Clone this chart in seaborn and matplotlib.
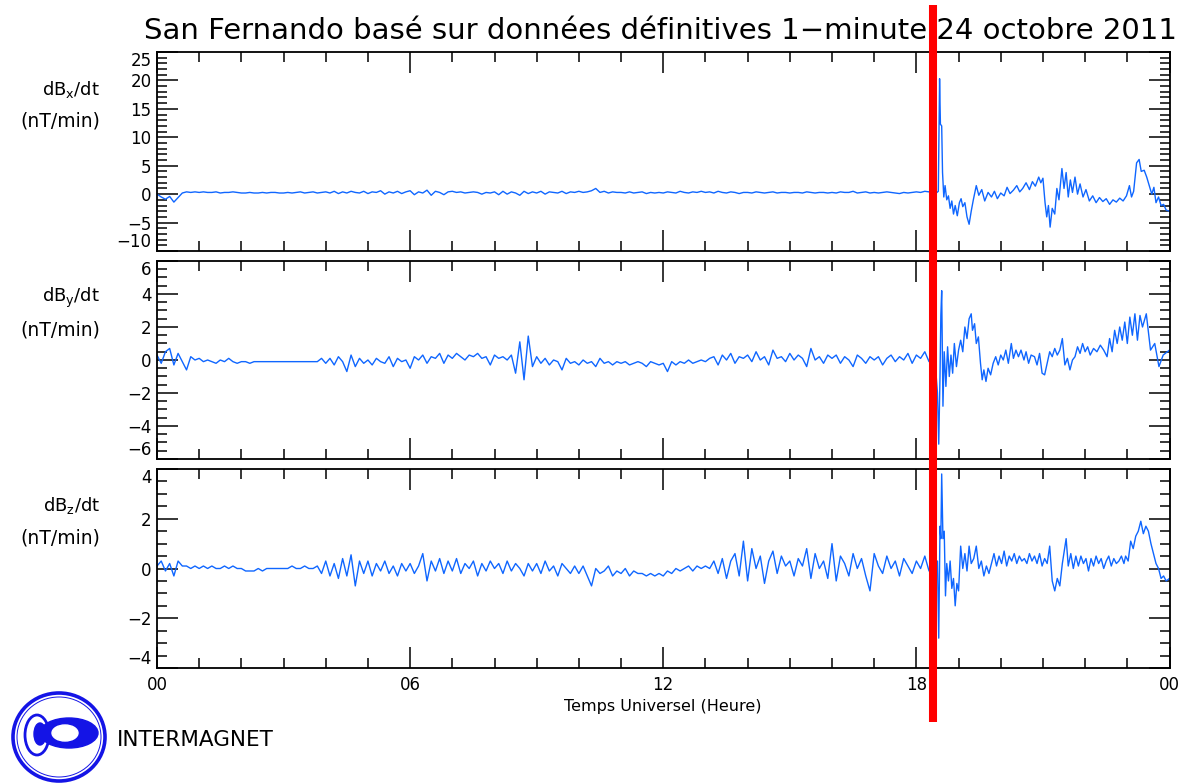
import numpy as np
import pandas as pd
import seaborn as sns
import matplotlib
matplotlib.use("Agg")
import matplotlib.pyplot as plt
from matplotlib.ticker import MultipleLocator, FixedLocator
from matplotlib.transforms import blended_transform_factory
from matplotlib.lines import Line2D
from matplotlib.patches import Ellipse

# ---------------- data ----------------
title = "San Fernando basé sur données définitives 1\u2212minute 24 octobre 2011"
xlabel = "Temps Universel (Heure)"
hour_ticks = [0, 6, 12, 18, 24]
hour_labels = ["00", "06", "12", "18", "00"]
event_hour = 18.39  # red marker

# quiet part: 0.0 h .. 18.3 h, every 0.1 h
quiet_hours = np.round(np.arange(184) * 0.1, 1)

dbx_quiet = [
    0.0, -0.5, -0.9, -0.4, -1.4, -0.6, 0.2, 0.4, 0.3, 0.4,
    0.3, 0.4, 0.3, 0.3, 0.4, 0.2, 0.3, 0.3, 0.4, 0.3,
    0.2, 0.2, 0.3, 0.2, 0.2, 0.3, 0.2, 0.3, 0.3, 0.2,
    0.2, 0.3, 0.2, 0.3, 0.4, 0.2, 0.3, 0.4, 0.2, 0.3,
    0.4, 0.2, 0.5, 0.1, 0.4, 0.2, 0.5, 0.3, 0.2, 0.5,
    0.1, 0.4, 0.3, 0.6, 0.0, 0.4, 0.2, 0.5, 0.1, 0.4,
    0.6, -0.1, 0.4, 0.2, 0.7, -0.2, 0.5, 0.3, -0.1, 0.4,
    0.5, 0.3, 0.4, 0.2, 0.3, 0.4, 0.3, 0.0, 0.3, 0.2,
    0.4, -0.1, 0.5, 0.0, 0.4, 0.2, -0.2, 0.5, 0.1, 0.4,
    0.2, 0.5, 0.0, 0.4, 0.3, 0.2, 0.5, 0.1, 0.4, 0.3,
    0.5, 0.3, 0.4, 0.6, 1.0, 0.3, 0.5, 0.2, 0.4, 0.3,
    0.3, 0.2, 0.4, 0.2, 0.3, 0.4, 0.1, 0.3, 0.2, 0.3,
    0.2, 0.4, 0.3, 0.2, 0.5, 0.3, 0.2, 0.4, 0.3, 0.5,
    0.3, 0.4, 0.2, 0.5, 0.3, 0.2, 0.4, 0.3, 0.1, 0.3,
    0.3, 0.2, 0.4, 0.3, 0.2, 0.3, 0.4, 0.2, 0.3, 0.3,
    0.2, 0.3, 0.3, 0.2, 0.4, 0.3, 0.2, 0.3, 0.3, 0.2,
    0.3, 0.2, 0.4, 0.3, 0.3, 0.5, 0.2, 0.3, 0.4, 0.2,
    0.3, 0.2, 0.3, 0.4, 0.3, 0.2, 0.1, 0.3, 0.2, 0.3,
    0.4, 0.3, 0.5, 0.4,
]
dby_quiet = [
    0.3, -0.2, 0.5, 0.7, -0.3, 0.4, -0.1, -0.6, 0.2, 0.0,
    0.1, -0.1, 0.0, -0.1, -0.2, 0.0, -0.1, 0.1, -0.1, -0.2,
    -0.1, -0.1, -0.2, -0.1, -0.1, -0.1, -0.1, -0.1, -0.1, -0.1,
    -0.1, -0.1, -0.1, -0.1, -0.1, -0.1, -0.1, -0.1, -0.1, 0.1,
    -0.2, 0.1, -0.3, 0.2, -0.1, -0.7, 0.3, -0.4, 0.1, -0.2,
    0.0, -0.3, 0.1, -0.1, -0.2, 0.2, -0.4, 0.1, -0.1, 0.0,
    -0.5, 0.2, 0.0, 0.3, -0.2, 0.2, 0.1, 0.4, -0.2, 0.3,
    0.1, 0.4, 0.2, 0.0, 0.3, 0.2, 0.4, 0.1, 0.2, -0.3,
    0.3, 0.1, 0.2, 0.0, 0.3, -0.8, 1.1, -1.2, 1.45, -0.4,
    0.2, -0.2, 0.1, -0.3, 0.0, -0.1, -0.6, 0.1, -0.2, -0.1,
    -0.3, 0.0, -0.2, -0.1, -0.4, 0.1, -0.2, -0.1, -0.3, -0.1,
    -0.2, -0.1, -0.3, -0.2, -0.1, -0.2, -0.4, -0.1, -0.2, -0.3,
    -0.2, -0.7, -0.1, -0.3, -0.1, -0.2, 0.0, -0.2, -0.1, 0.0,
    -0.1, 0.1, 0.2, -0.3, 0.3, 0.0, 0.4, -0.2, 0.2, 0.1,
    0.3, -0.1, 0.5, 0.0, 0.2, -0.3, 0.6, 0.1, 0.2, -0.1,
    0.4, 0.0, 0.3, 0.1, -0.4, 0.7, 0.0, 0.2, -0.2, 0.3,
    0.1, 0.3, -0.2, 0.2, 0.0, -0.4, 0.3, 0.1, -0.2, 0.2,
    0.0, 0.2, -0.3, 0.1, 0.3, -0.1, 0.2, 0.0, 0.4, -0.2,
    0.3, 0.1, 0.5, -0.1,
]
dbz_quiet = [
    0.1, 0.3, -0.1, 0.2, -0.3, 0.3, 0.1, 0.1, 0.0, 0.1,
    0.0, 0.1, 0.0, 0.1, 0.0, 0.0, 0.1, 0.0, 0.1, 0.0,
    0.0, -0.1, -0.1, -0.1, 0.0, -0.1, 0.0, 0.0, 0.0, 0.0,
    0.0, 0.0, 0.1, 0.0, 0.0, 0.1, 0.0, 0.0, 0.1, -0.2,
    0.3, -0.3, 0.2, -0.4, 0.4, -0.3, 0.55, -0.7, 0.3, -0.2,
    0.3, -0.3, 0.2, -0.1, 0.3, -0.2, 0.1, -0.3, 0.2, -0.1,
    0.2, -0.2, 0.1, 0.6, -0.5, 0.3, -0.1, 0.4, -0.2, 0.3,
    -0.1, 0.4, -0.2, 0.2, 0.0, 0.3, -0.3, 0.2, -0.1, 0.3,
    0.0, 0.2, -0.2, 0.3, -0.1, 0.2, 0.0, -0.3, 0.2, -0.1,
    0.2, -0.2, 0.3, -0.1, 0.1, -0.3, 0.2, 0.0, -0.2, 0.1,
    -0.2, 0.1, -0.3, -0.7, 0.0, -0.2, -0.1, 0.1, -0.3, -0.1,
    -0.2, 0.0, -0.3, -0.1, -0.2, -0.2, -0.3, -0.2, -0.3, -0.2,
    -0.3, -0.1, -0.2, 0.0, -0.1, 0.0, 0.1, -0.1, 0.1, 0.0,
    0.1, 0.0, 0.3, -0.2, 0.4, -0.4, 0.3, 0.6, -0.3, 1.1,
    -0.5, 0.8, 0.0, 0.5, -0.6, 0.3, 0.7, -0.2, 0.5, 0.1,
    0.3, -0.3, 0.4, 0.1, 0.8, -0.4, 0.6, 0.0, 0.3, -0.4,
    1.0, -0.5, 0.5, 0.2, -0.3, 0.6, 0.0, 0.4, -0.3, -0.9,
    0.6, 0.1, -0.2, 0.5, 0.0, 0.3, -0.3, 0.4, 0.1, -0.2,
    0.3, 0.0, 0.5, -0.1,
]

# storm part: explicit hours
dbx_storm_hours = [
    18.40, 18.47, 18.52, 18.55, 18.57, 18.60, 18.62, 18.65, 18.68, 18.72,
    18.76, 18.80, 18.84, 18.88, 18.92, 18.97, 19.02, 19.06, 19.10, 19.15,
    19.20, 19.25, 19.30, 19.35, 19.42, 19.48, 19.55, 19.62, 19.70, 19.78,
    19.85, 19.92, 20.00, 20.08, 20.15, 20.22, 20.30, 20.38, 20.45, 20.52,
    20.60, 20.68, 20.75, 20.82, 20.90, 20.95, 21.00, 21.05, 21.09, 21.13,
    21.17, 21.22, 21.28, 21.33, 21.38, 21.45, 21.50, 21.55, 21.60, 21.65,
    21.70, 21.76, 21.82, 21.88, 21.95, 22.02, 22.10, 22.18, 22.26, 22.34,
    22.42, 22.50, 22.58, 22.66, 22.74, 22.82, 22.90, 22.98, 23.05, 23.10,
    23.15, 23.22, 23.28, 23.33, 23.40, 23.46, 23.52, 23.58, 23.63, 23.68,
    23.74, 23.80, 23.86, 23.92, 24.00,
]
dbx_storm = [
    0.6, 0.2, 0.5, 20.3, 12.3, 12.0, 3.8, -0.5, 1.5, -1.0,
    -0.3, -2.5, -1.2, -3.5, -2.0, -3.8, -1.5, -0.8, -2.2, -1.5,
    -4.0, -5.3, -3.0, -1.0, 1.5, -0.2, 0.8, -1.2, 0.3, -0.5,
    0.5, -0.8, 0.2, -0.3, 1.2, 0.1, 0.7, 1.5, 0.4, 1.0,
    2.0, 0.8, 2.2, 1.4, 3.0, 2.0, 2.8, -1.5, -4.0, -2.0,
    -5.8, -2.5, -3.5, 1.0, -1.0, 4.5, 1.0, 3.8, -0.5, 2.5,
    0.3, 3.0, 0.0, 1.8, -0.5, 0.8, -1.2, -0.3, -1.5, -0.6,
    -1.3, -0.8, -1.8, -1.0, -1.4, -0.7, -1.2, -0.3, 1.5, -0.5,
    0.5, 5.5, 6.1, 4.0, 4.2, 3.0, 1.5, 0.0, 1.2, -1.5,
    -0.5, -2.0, -1.8, -2.8, -3.0,
]
dby_storm_hours = [
    18.40, 18.45, 18.50, 18.53, 18.56, 18.58, 18.60, 18.63, 18.66, 18.70,
    18.74, 18.78, 18.82, 18.86, 18.90, 18.95, 19.00, 19.05, 19.10, 19.15,
    19.20, 19.25, 19.30, 19.33, 19.38, 19.42, 19.47, 19.52, 19.56, 19.60,
    19.65, 19.70, 19.76, 19.82, 19.88, 19.94, 20.00, 20.06, 20.12, 20.18,
    20.25, 20.30, 20.36, 20.42, 20.48, 20.55, 20.60, 20.66, 20.72, 20.80,
    20.86, 20.92, 20.98, 21.04, 21.10, 21.16, 21.22, 21.28, 21.34, 21.40,
    21.46, 21.52, 21.58, 21.64, 21.70, 21.76, 21.82, 21.88, 21.94, 22.00,
    22.06, 22.12, 22.20, 22.28, 22.36, 22.44, 22.52, 22.58, 22.64, 22.70,
    22.76, 22.82, 22.88, 22.94, 23.00, 23.06, 23.12, 23.18, 23.24, 23.30,
    23.36, 23.45, 23.55, 23.65, 23.75, 23.85, 24.00,
]
dby_storm = [
    0.3, -0.3, -2.0, -5.1, -1.0, 2.7, 4.2, -2.8, 0.5, -1.6,
    0.8, -1.0, 0.3, -0.8, 1.0, -0.4, 0.6, 1.2, 0.5, 2.0,
    1.3, 2.5, 2.8, 1.8, 2.2, 1.0, 1.4, -0.2, -1.2, -0.6,
    -1.3, -0.5, -0.9, -0.2, 0.2, -0.3, 0.3, 0.0, 0.6, -0.2,
    1.0, 0.1, 0.6, 0.2, 0.6, 0.0, 0.5, -0.2, 0.3, 0.2,
    -0.3, 0.4, -0.8, -0.9, -0.2, 0.5, 0.2, 0.7, 0.3, 0.6,
    1.3, -0.3, 0.1, -0.6, 0.0, 0.2, 0.8, 0.4, 1.0, 0.5,
    0.8, 0.3, 0.7, 0.5, 0.9, 0.6, 0.2, 1.3, 0.5, 1.8,
    1.0, 2.0, 1.2, 2.3, 1.0, 2.6, 1.5, 2.8, 1.2, 2.7,
    2.0, 2.8, 0.6, 1.0, -0.4, 0.3, 0.6,
]
dbz_storm_hours = [
    18.40, 18.45, 18.50, 18.53, 18.56, 18.58, 18.60, 18.63, 18.66, 18.69,
    18.72, 18.76, 18.80, 18.84, 18.88, 18.92, 18.96, 19.00, 19.05, 19.10,
    19.15, 19.20, 19.25, 19.30, 19.36, 19.42, 19.48, 19.54, 19.60, 19.66,
    19.72, 19.78, 19.84, 19.90, 19.96, 20.02, 20.08, 20.14, 20.20, 20.26,
    20.32, 20.38, 20.44, 20.50, 20.56, 20.62, 20.68, 20.74, 20.80, 20.86,
    20.92, 20.98, 21.04, 21.10, 21.16, 21.22, 21.28, 21.34, 21.40, 21.46,
    21.55, 21.60, 21.66, 21.72, 21.78, 21.84, 21.90, 21.96, 22.02, 22.08,
    22.14, 22.20, 22.26, 22.32, 22.38, 22.44, 22.50, 22.56, 22.62, 22.68,
    22.74, 22.80, 22.86, 22.92, 22.96, 23.02, 23.08, 23.14, 23.20, 23.26,
    23.32, 23.38, 23.44, 23.50, 23.56, 23.62, 23.68, 23.74, 23.80, 23.86,
    23.92, 24.00,
]
dbz_storm = [
    0.5, -0.3, 0.3, -2.8, 1.7, 1.2, 3.8, 1.2, 1.5, -1.1,
    0.2, -0.5, 0.3, -0.8, -0.4, -1.5, -0.6, -0.9, 0.9, 0.0,
    0.6, -0.1, 0.9, 0.2, 0.4, 0.9, 0.0, 0.3, -0.3, 0.1,
    -0.2, 0.2, 0.6, 0.1, 0.5, 0.2, 0.7, 0.1, 0.5, 0.3,
    0.6, 0.2, 0.5, 0.3, 0.4, 0.2, 0.6, 0.3, 0.5, 0.2,
    0.6, 0.1, 0.4, 0.2, 0.9, -0.5, -0.9, -0.4, -0.7, 0.2,
    1.2, 0.1, 0.6, 0.0, 0.5, 0.1, 0.5, 0.2, 0.4, -0.1,
    0.4, 0.1, 0.5, 0.2, 0.4, 0.0, 0.3, 0.5, 0.1, 0.4,
    0.2, 0.3, 0.5, 0.2, 0.5, 0.3, 1.1, 0.8, 1.3, 1.5,
    1.9, 1.4, 1.7, 1.5, 1.0, 0.6, 0.2, 0.0, -0.4, -0.3,
    -0.5, -0.4,
]

components = ["x", "y", "z"]
y_limits = [(-10, 25), (-6, 6), (-4, 4)]
y_major = [5, 2, 2]
y_minor = [1, 0.5, 0.5]

# ---------------- build long-form table ----------------
frames = []
for comp, q, sh, s in [
    ("x", dbx_quiet, dbx_storm_hours, dbx_storm),
    ("y", dby_quiet, dby_storm_hours, dby_storm),
    ("z", dbz_quiet, dbz_storm_hours, dbz_storm),
]:
    frames.append(pd.DataFrame({"hour": np.concatenate([quiet_hours, sh]),
                                "value": np.concatenate([q, s]),
                                "component": comp}))
df = pd.concat(frames, ignore_index=True)

# ---------------- figure ----------------
sns.set_theme(style="ticks")
plt.rcParams["font.family"] = ["DejaVu Sans"]
plt.rcParams["mathtext.default"] = "regular"

W, H = 1182, 783
fig = plt.figure(figsize=(W / 100, H / 100), dpi=100)
fig.patch.set_facecolor("white")

def fx(px):
    return px / W

def fy(py):
    return 1 - py / H

left_px, right_px = 157, 1169.5
boxes = [(52, 251), (261, 459), (469, 668)]
label_y = [(90, 121), (298, 330), (505, 538)]
line_color = "#0f66ff"

axes = []
for i, comp in enumerate(components):
    top, bot = boxes[i]
    ax = fig.add_axes([fx(left_px), fy(bot), fx(right_px) - fx(left_px), (bot - top) / H])
    sub = df[df["component"] == comp]
    sns.lineplot(data=sub, x="hour", y="value", ax=ax, color=line_color,
                 linewidth=1.0, estimator=None, sort=False, legend=False)
    lo, hi = y_limits[i]
    ax.set_xlim(0, 24)
    ax.set_ylim(lo, hi)
    ax.xaxis.set_major_locator(FixedLocator(hour_ticks))
    ax.xaxis.set_minor_locator(MultipleLocator(1))
    ax.yaxis.set_major_locator(FixedLocator(list(np.arange(lo, hi + 0.001, y_major[i]))))
    ax.yaxis.set_minor_locator(MultipleLocator(y_minor[i]))
    ax.tick_params(which="both", direction="in", top=True, right=True,
                   width=1.1, color="black", labelsize=12, labelcolor="black", pad=4)
    ax.tick_params(which="major", length=15)
    ax.tick_params(which="minor", length=7)
    for sp in ax.spines.values():
        sp.set_visible(True)
        sp.set_linewidth(1.3)
        sp.set_color("black")
    ax.set_xlabel("")
    ax.set_ylabel("")
    if i < 2:
        ax.set_xticklabels([])
    else:
        ax.set_xticklabels(hour_labels)
        ax.tick_params(axis="x", pad=6)
    ax.set_facecolor("white")
    yt = ax.yaxis.get_major_ticks()
    yt[0].label1.set_verticalalignment("bottom")
    yt[-1].label1.set_verticalalignment("top")
    y1, y2 = label_y[i]
    fig.text(fx(100), fy(y1), r"dB$_{%s}$/dt" % comp, ha="right", va="center",
             fontsize=13, color="black")
    fig.text(fx(100), fy(y2), "(nT/min)", ha="right", va="center",
             fontsize=13.5, color="black")
    axes.append(ax)

fig.text(fx(661), fy(31), title, ha="center", va="center", fontsize=21, color="black")
fig.text(fx(663), fy(706), xlabel, ha="center", va="center", fontsize=11.5, color="black")

# red event marker spanning the figure
trans = blended_transform_factory(axes[2].transData, fig.transFigure)
fig.add_artist(Line2D([event_hour, event_hour], [fy(5), fy(722)], transform=trans,
                      color="red", linewidth=5.8, solid_capstyle="butt", zorder=10))

# INTERMAGNET logo
lax = fig.add_axes([fx(8), fy(783), fx(112) - fx(8), 95 / H])
lax.set_xlim(8, 112)
lax.set_ylim(783, 688)
lax.axis("off")
blue = "#1414e6"
lax.add_patch(Ellipse((59, 737), 92, 88, fill=False, ec=blue, lw=2.6))
lax.add_patch(Ellipse((59, 737), 84, 80, fill=False, ec=blue, lw=0.7))
lax.add_patch(Ellipse((69, 733), 58, 30, fc=blue, ec=blue))
lax.add_patch(Ellipse((65, 733), 26, 16, fc="white", ec="white"))
lax.add_patch(Ellipse((37, 735), 24, 40, fill=False, ec=blue, lw=2.0))
lax.add_patch(Ellipse((40, 734), 12, 22, fc=blue, ec=blue))
fig.text(fx(117), fy(740), "INTERMAGNET", ha="left", va="center", fontsize=15.5,
         color="black")

fig.savefig("out.png", dpi=100, facecolor="white")
